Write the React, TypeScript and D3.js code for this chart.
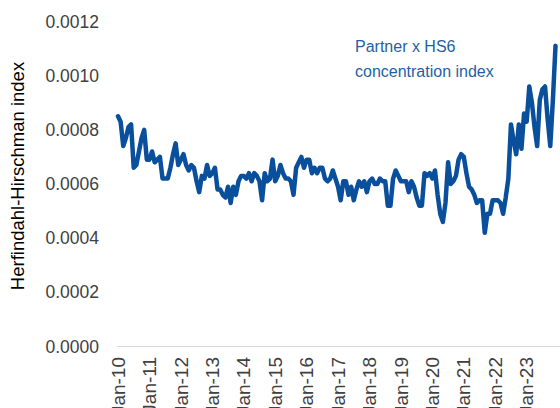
import React, { useEffect, useRef } from "react";
import * as d3 from "d3";

// monthly HHI values, Jan-10 .. Dec-23
const hhi2010 = [0.00085, 0.00083, 0.00074, 0.00077, 0.00081, 0.00082, 0.00066, 0.00067, 0.00072, 0.00077, 0.0008, 0.00069];
const hhi2011 = [0.00069, 0.00072, 0.00068, 0.00069, 0.0007, 0.00062, 0.00062, 0.00062, 0.00066, 0.00071, 0.00075, 0.00067];
const hhi2012 = [0.00069, 0.00071, 0.00067, 0.00065, 0.00067, 0.00066, 0.00061, 0.00057, 0.00063, 0.00062, 0.00067, 0.00063];
const hhi2013 = [0.00064, 0.00066, 0.00058, 0.00058, 0.00056, 0.00055, 0.00059, 0.00053, 0.00059, 0.00056, 0.00061, 0.00063];
const hhi2014 = [0.00063, 0.00062, 0.00064, 0.00061, 0.00064, 0.00063, 0.00061, 0.00054, 0.00064, 0.00061, 0.00062, 0.00069];
const hhi2015 = [0.00061, 0.00063, 0.00067, 0.00064, 0.00062, 0.00062, 0.00061, 0.00056, 0.00066, 0.00068, 0.0007, 0.00066];
const hhi2016 = [0.00069, 0.00069, 0.00064, 0.00066, 0.00064, 0.00066, 0.00066, 0.00062, 0.00061, 0.00062, 0.00065, 0.00062];
const hhi2017 = [0.00059, 0.00054, 0.00061, 0.00061, 0.00056, 0.00059, 0.00054, 0.00058, 0.00061, 0.00059, 0.00061, 0.00057];
const hhi2018 = [0.00061, 0.00062, 0.0006, 0.0006, 0.00062, 0.00061, 0.00061, 0.00052, 0.00052, 0.00062, 0.00065, 0.00063];
const hhi2019 = [0.00061, 0.00061, 0.00061, 0.00057, 0.00061, 0.00059, 0.00055, 0.00052, 0.00052, 0.00064, 0.00063, 0.00064];
const hhi2020 = [0.00062, 0.00065, 0.00056, 0.00049, 0.00046, 0.00053, 0.00068, 0.0006, 0.00061, 0.00063, 0.00069, 0.00071];
const hhi2021 = [0.0007, 0.00064, 0.00059, 0.00058, 0.00056, 0.00053, 0.00054, 0.00054, 0.00042, 0.00049, 0.00049, 0.00054];
const hhi2022 = [0.00054, 0.00054, 0.00053, 0.00049, 0.00055, 0.00062, 0.00082, 0.00076, 0.00071, 0.00082, 0.00073, 0.00086];
const hhi2023 = [0.00083, 0.00096, 0.0009, 0.00081, 0.00074, 0.00091, 0.00095, 0.00096, 0.00084, 0.00074, 0.00091, 0.00111];

const years = ["10", "11", "12", "13", "14", "15", "16", "17", "18", "19", "20", "21", "22", "23"];
const yTicks = [0, 0.0002, 0.0004, 0.0006, 0.0008, 0.001, 0.0012];
const noteLines = ["Partner x HS6", "concentration index"];

const values = [
  ...hhi2010, ...hhi2011, ...hhi2012, ...hhi2013, ...hhi2014, ...hhi2015, ...hhi2016,
  ...hhi2017, ...hhi2018, ...hhi2019, ...hhi2020, ...hhi2021, ...hhi2022, ...hhi2023,
];

const App = () => {
  const ref = useRef<SVGSVGElement>(null);

  useEffect(() => {
    const svg = d3.select(ref.current);
    svg.selectAll("*").remove();

    const font = "'Liberation Sans', Arial, sans-serif";

    const x = d3.scaleLinear().domain([0, values.length - 1]).range([118, 555.5]);
    const y = d3.scaleLinear().domain([0, 0.0012]).range([346.5, 21.5]);

    // y tick labels
    svg.append("g")
      .selectAll("text")
      .data(yTicks)
      .join("text")
      .attr("x", 99)
      .attr("y", d => y(d))
      .attr("dy", "0.35em")
      .attr("text-anchor", "end")
      .attr("font-family", font)
      .attr("font-size", 17.5)
      .attr("fill", "#404040")
      .text(d => d.toFixed(4));

    // y title
    svg.append("text")
      .attr("transform", `translate(24, 176) rotate(-90)`)
      .attr("text-anchor", "middle")
      .attr("font-family", font)
      .attr("font-size", 18.5)
      .attr("fill", "#000")
      .text("Herfindahl-Hirschman index");

    // x axis line
    svg.append("line")
      .attr("x1", 117)
      .attr("x2", 560)
      .attr("y1", 346.5)
      .attr("y2", 346.5)
      .attr("stroke", "#d9d9d9")
      .attr("stroke-width", 1);

    // x labels, one per January
    svg.append("g")
      .selectAll("text")
      .data(years)
      .join("text")
      .attr("transform", (d, i) => `translate(${x(i * 12)}, 357) rotate(-90)`)
      .attr("dy", "0.35em")
      .attr("text-anchor", "end")
      .attr("font-family", font)
      .attr("font-size", 19)
      .attr("fill", "#404040")
      .text(d => `Jan-${d}`);

    const line = d3.line<number>()
      .x((d, i) => x(i))
      .y(d => y(d));

    svg.append("path")
      .datum(values)
      .attr("d", line)
      .attr("fill", "none")
      .attr("stroke", "#0a4f9b")
      .attr("stroke-width", 4.5)
      .attr("stroke-linejoin", "round")
      .attr("stroke-linecap", "round");

    // annotation
    svg.append("g")
      .selectAll("text")
      .data(noteLines)
      .join("text")
      .attr("x", 355)
      .attr("y", (d, i) => 52 + i * 25)
      .attr("font-family", font)
      .attr("font-size", 16)
      .attr("fill", "#1f5fa8")
      .text(d => d);
  }, []);

  return <svg ref={ref} width={560} height={408} style={{ position: "absolute", left: 0, top: 0 }} />;
};

export default App;
